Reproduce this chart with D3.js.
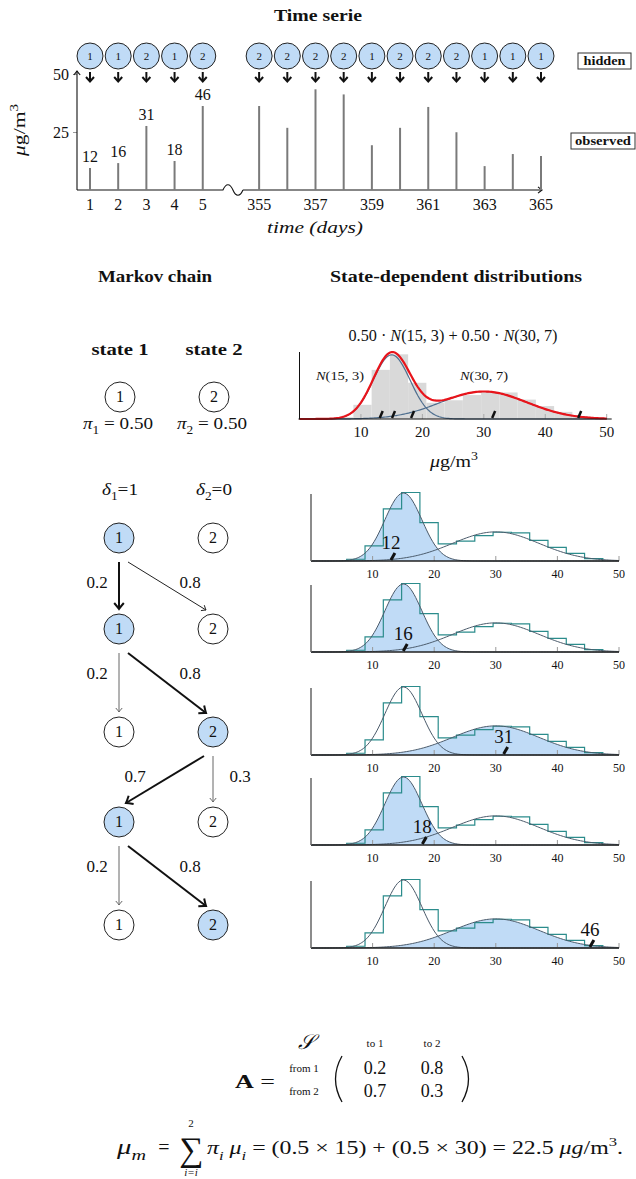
<!DOCTYPE html>
<html>
<head>
<meta charset="utf-8">
<script src="https://cdn.jsdelivr.net/npm/d3@7"></script>
<style>
body { margin: 0; background: #fff; }
svg { display: block; }
text { font-family: "Liberation Serif", "DejaVu Serif", serif; fill: #111; }
</style>
</head>
<body>
<svg id="chart"></svg>
<script>
const W = 636, H = 1179;

// ---- data ----
const days = [1, 2, 3, 4, 5, 355, 356, 357, 358, 359, 360, 361, 362, 363, 364, 365];
const hidden = [1, 1, 2, 1, 2, 2, 2, 2, 2, 1, 2, 2, 2, 1, 1, 1];
const observed = [9.5, 11.6, 27.6, 12.5, 36.2, 36.2, 26.8, 43.4, 41.2, 19.3, 26.8, 35.8, 24.9, 10.3, 15.5, 14.7];
const obsLabels = [12, 16, 31, 18, 46];
const dayTicks = [1, 2, 3, 4, 5, 355, 357, 359, 361, 363, 365];
const yTicks = [25, 50];

const piInit = [0.5, 0.5];
const delta = [1, 0];
const means = [15, 30];
const sds = [3, 7];
const transition = [[0.2, 0.8], [0.7, 0.3]];
const chainStates = [1, 1, 2, 1, 2];
const rugValues = [13.3, 15.3, 31.6, 18.4, 45.6];

const binEdges = [5.8, 8.77, 11.74, 14.71, 17.68, 20.65, 23.62, 26.59, 29.56, 32.53, 35.5, 38.47, 41.44, 44.41, 47.38];
const binDensity = [0.0017, 0.0147, 0.0509, 0.067, 0.0375, 0.0168, 0.0194, 0.0248, 0.0281, 0.0275, 0.0201, 0.0134, 0.0074, 0.0023];
const distTicks = [10, 20, 30, 40, 50];

// ---- setup ----
const blue = "#c0dbf6";
const curveCol = "#4a5a6a";
const teal = "#2b8c8c";

const svg = d3.select("#chart")
    .attr("width", W)
    .attr("height", H);

// text with sub/superscripts: parts = [{t, i, b, sub, sup}]
function rich(g, x, y, parts, size, anchor, len) {
  const t = g.append("text")
      .attr("x", x).attr("y", y)
      .attr("font-size", size)
      .attr("text-anchor", anchor || "middle");
  let shift = 0;
  parts.forEach(p => {
    const s = (p.sub || p.sup) ? size * 0.7 : size;
    const target = p.sub ? size * 0.3 : p.sup ? -size * 0.4 : 0;
    const ts = t.append("tspan").text(p.t)
        .attr("font-size", s)
        .attr("dy", target - shift);
    shift = target;
    if (p.i) ts.attr("font-style", "italic");
    if (p.b) ts.attr("font-weight", "bold");
  });
  if (len) t.attr("textLength", len).attr("lengthAdjust", "spacingAndGlyphs");
  return t;
}

function title(x, y, txt, len) {
  svg.append("text").attr("x", x).attr("y", y)
      .attr("text-anchor", "middle").attr("font-size", 16).attr("font-weight", "bold")
      .attr("textLength", len).attr("lengthAdjust", "spacingAndGlyphs")
      .text(txt);
}

function arrow(g, x1, y1, x2, y2, w, col, head) {
  g.append("line")
      .attr("x1", x1).attr("y1", y1).attr("x2", x2).attr("y2", y2)
      .attr("stroke", col).attr("stroke-width", w);
  const a = Math.atan2(y2 - y1, x2 - x1);
  const hx = (dx, dy) => x2 + dx * Math.cos(a) - dy * Math.sin(a);
  const hy = (dx, dy) => y2 + dx * Math.sin(a) + dy * Math.cos(a);
  g.append("path")
      .attr("d", `M${hx(-head, -head * 0.8)},${hy(-head, -head * 0.8)} Q${hx(-head * 0.3, -head * 0.2)},${hy(-head * 0.3, -head * 0.2)} ${x2},${y2} Q${hx(-head * 0.3, head * 0.2)},${hy(-head * 0.3, head * 0.2)} ${hx(-head, head * 0.8)},${hy(-head, head * 0.8)}`)
      .attr("fill", "none").attr("stroke", col).attr("stroke-width", w);
}

const dnorm = (v, m, s) => Math.exp(-0.5 * ((v - m) / s) ** 2) / (s * Math.sqrt(2 * Math.PI));
const grid = d3.range(0, 50.001, 0.25);

// ================= Time serie =================
title(318, 21, "Time serie", 88);

const ts = svg.append("g");
const xDomain = days.slice(0, 5).map(String).concat(["gap"], days.slice(5).map(String));
const x = d3.scalePoint().domain(xDomain).range([90, 541]);
const y = d3.scaleLinear().domain([0, 50]).range([190, 74]);
const x0 = 77;

// y axis ticks
const yAxis = ts.append("g")
    .attr("transform", `translate(${x0},0)`)
    .call(d3.axisLeft(y).tickValues(yTicks).tickSize(4).tickPadding(4));
yAxis.select(".domain").remove();
yAxis.selectAll("line").attr("stroke", "#999");
yAxis.selectAll("text").attr("font-size", 16).attr("font-family", "Liberation Serif, serif").attr("fill", "#111");

arrow(ts, x0, y(0), x0, 71, 1.1, "#111", 4);

// x axis with break
const gx = x("gap");
ts.append("path")
    .attr("d", `M${x0},${y(0)} H${gx - 8} C${gx - 5},${y(0) - 7} ${gx - 1},${y(0) - 7} ${gx + 2},${y(0)} C${gx + 5},${y(0) + 7} ${gx + 9},${y(0) + 7} ${gx + 12},${y(0)}`)
    .attr("fill", "none").attr("stroke", "#111").attr("stroke-width", 1.1);
arrow(ts, gx + 12, y(0), x("365") + 1, y(0), 1.1, "#111", 4);

// bars
ts.selectAll(".bar").data(days).enter().append("line")
    .attr("x1", d => x(String(d))).attr("x2", d => x(String(d)))
    .attr("y1", y(0)).attr("y2", (d, i) => y(observed[i]))
    .attr("stroke", "#7a7a7a").attr("stroke-width", 2);

ts.selectAll(".lab").data(obsLabels).enter().append("text")
    .attr("x", (d, i) => x(String(days[i])))
    .attr("y", (d, i) => y(observed[i]) - 6)
    .attr("text-anchor", "middle").attr("font-size", 16)
    .text(d => d);

ts.selectAll(".tick-lab").data(dayTicks).enter().append("text")
    .attr("x", d => x(String(d))).attr("y", 210)
    .attr("text-anchor", "middle").attr("font-size", 16)
    .text(d => d);

rich(ts, 315, 233, [{ t: "time", i: true }, { t: " (" , i: true}, { t: "days", i: true }, { t: ")" , i: true}], 16, "middle", 96);
rich(ts, 0, 0, [{ t: "μ", i: true }, { t: "g/m" }, { t: "3", sup: true }], 17, "middle", 52)
    .attr("transform", "translate(25,130) rotate(-90)");

// hidden states
const hy0 = 56;
const hg = ts.selectAll(".hid").data(days).enter().append("g")
    .attr("transform", d => `translate(${x(String(d))},${hy0})`);
hg.append("circle").attr("r", 13).attr("fill", blue).attr("stroke", "#222").attr("stroke-width", 1);
hg.append("text").attr("y", 4).attr("text-anchor", "middle").attr("font-size", 11)
    .text((d, i) => hidden[i]);
hg.each(function () {
  const g = d3.select(this);
  g.append("line").attr("x1", 0).attr("x2", 0).attr("y1", 16).attr("y2", 25)
      .attr("stroke", "#111").attr("stroke-width", 2);
  g.append("path").attr("d", "M-4,21 L0,25.5 L4,21")
      .attr("fill", "none").attr("stroke", "#111").attr("stroke-width", 2);
});

// legend boxes
[["hidden", 578, 53, 53, 42], ["observed", 571, 133, 64, 56]].forEach(([t, bx, by, bw, tl]) => {
  ts.append("rect").attr("x", bx).attr("y", by).attr("width", bw).attr("height", 16)
      .attr("fill", "#fff").attr("stroke", "#333").attr("stroke-width", 1);
  ts.append("text").attr("x", bx + bw / 2).attr("y", by + 12)
      .attr("text-anchor", "middle").attr("font-size", 12).attr("font-weight", "bold")
      .attr("textLength", tl).attr("lengthAdjust", "spacingAndGlyphs").text(t);
});

// ================= section titles =================
title(155, 282, "Markov chain", 114);
title(456, 282, "State-dependent distributions", 252);

// ================= Markov chain =================
const colX = [119, 213];
const panelBase = [561, 652, 755, 845, 948];
const rowY = panelBase.map(b => b - 23);
const mc = svg.append("g");

colX.forEach((cx, k) => {
  mc.append("text").attr("x", cx + 1).attr("y", 355).attr("text-anchor", "middle")
      .attr("font-size", 16).attr("font-weight", "bold")
      .attr("textLength", 57).attr("lengthAdjust", "spacingAndGlyphs")
      .text("state " + (k + 1));
  mc.append("circle").attr("cx", cx + 1).attr("cy", 397).attr("r", 15)
      .attr("fill", "#fff").attr("stroke", "#222");
  mc.append("text").attr("x", cx + 1).attr("y", 402).attr("text-anchor", "middle")
      .attr("font-size", 16).text(k + 1);
  rich(mc, cx - 1, 429, [{ t: "π", i: true }, { t: String(k + 1), sub: true }, { t: " = " + piInit[k].toFixed(2) }], 17, "middle", 70);
  rich(mc, cx + 1, 495, [{ t: "δ", i: true }, { t: String(k + 1), sub: true }, { t: "=" + delta[k] }], 17, "middle", 36);
});

chainStates.forEach((s, i) => {
  colX.forEach((cx, k) => {
    mc.append("circle").attr("cx", cx).attr("cy", rowY[i]).attr("r", 15)
        .attr("fill", s === k + 1 ? blue : "#fff").attr("stroke", "#222");
    mc.append("text").attr("x", cx).attr("y", rowY[i] + 5).attr("text-anchor", "middle")
        .attr("font-size", 16).text(k + 1);
  });
});

for (let i = 0; i < chainStates.length - 1; i++) {
  const from = chainStates[i], to = chainStates[i + 1];
  const sx = colX[from - 1], sy = rowY[i];
  [1, 2].forEach(j => {
    const tx = colX[j - 1], ty = rowY[i + 1];
    const thick = j === to;
    const vertical = j === from;
    const col = thick ? "#111" : vertical ? "#666" : "#222";
    const w = thick ? 2 : 1;
    const hd = thick ? 6 : 4;
    if (vertical) {
      arrow(mc, sx, sy + 24, tx, ty - 20, w, col, hd);
    } else {
      const dir = Math.sign(tx - sx);
      arrow(mc, sx + dir * 9, sy + 24, tx - dir * 7, ty - 19, w, col, hd);
    }
    const lx = vertical ? sx + (from === 1 ? -22 : 27) : (from === 1 ? colX[1] - 23 : colX[0] + 16);
    mc.append("text").attr("x", lx).attr("y", sy + 50).attr("text-anchor", "middle")
        .attr("font-size", 17).text(transition[from - 1][j - 1].toFixed(1));
  });
}

// ================= mixture panel =================
const mp = svg.append("g");
const xm = d3.scaleLinear().domain([0, 50]).range([299.5, 606.7]);
const ym = d3.scaleLinear().domain([0, 0.0694]).range([419, 352]);

rich(mp, 453, 341, [{ t: "0.50 · " }, { t: "N", i: true }, { t: "(15, 3) + 0.50 · " }, { t: "N", i: true }, { t: "(30, 7)" }], 16, "middle", 209);

mp.selectAll(".hb").data(binDensity).enter().append("rect")
    .attr("x", (d, i) => xm(binEdges[i]))
    .attr("width", (d, i) => xm(binEdges[i + 1]) - xm(binEdges[i]))
    .attr("y", d => ym(d)).attr("height", d => ym(0) - ym(d))
    .attr("fill", "#d9d9d9");

mp.selectAll(".tk").data(distTicks).enter().append("line")
    .attr("x1", d => xm(d)).attr("x2", d => xm(d)).attr("y1", ym(0)).attr("y2", ym(0) - 5)
    .attr("stroke", "#aaa");

means.forEach((m, k) => {
  mp.append("path").datum(grid)
      .attr("d", d3.line().x(v => xm(v)).y(v => ym(piInit[k] * dnorm(v, m, sds[k]))))
      .attr("fill", "none").attr("stroke", "#4f6f8f").attr("stroke-width", 1.2);
});
mp.append("path").datum(grid)
    .attr("d", d3.line().x(v => xm(v)).y(v => ym(d3.sum(means, (m, k) => piInit[k] * dnorm(v, m, sds[k])))))
    .attr("fill", "none").attr("stroke", "#e8141b").attr("stroke-width", 2.2);

mp.append("line").attr("x1", xm(0) - 1).attr("x2", xm(50) + 5).attr("y1", ym(0)).attr("y2", ym(0))
    .attr("stroke", "#111").attr("stroke-width", 1);
mp.append("line").attr("x1", xm(0)).attr("x2", xm(0)).attr("y1", ym(0)).attr("y2", 352)
    .attr("stroke", "#111").attr("stroke-width", 1);

rugValues.forEach(v => {
  mp.append("line").attr("x1", xm(v) - 1.5).attr("x2", xm(v) + 1.5)
      .attr("y1", ym(0) - 1).attr("y2", ym(0) - 8)
      .attr("stroke", "#111").attr("stroke-width", 2.5);
});

mp.selectAll(".tl").data(distTicks).enter().append("text")
    .attr("x", d => xm(d)).attr("y", 437).attr("text-anchor", "middle")
    .attr("font-size", 15).text(d => d);

rich(mp, 340, 380, [{ t: "N", i: true }, { t: "(15, 3)" }], 13, "middle", 48);
rich(mp, 484, 380, [{ t: "N", i: true }, { t: "(30, 7)" }], 13, "middle", 48);
rich(mp, 454, 467, [{ t: "μ", i: true }, { t: "g/m" }, { t: "3", sup: true }], 17, "middle", 48);

// ================= state panels =================
const xl = d3.scaleLinear().domain([0, 50]).range([311, 619]);

chainStates.forEach((s, i) => {
  const base = panelBase[i];
  const yl = d3.scaleLinear().domain([0, 0.0665]).range([base, base - 68]);
  const g = svg.append("g");
  const k = s - 1;

  g.append("path").datum(grid)
      .attr("d", d3.area().x(v => xl(v)).y0(base).y1(v => yl(piInit[k] * dnorm(v, means[k], sds[k]))))
      .attr("fill", blue);

  const pts = [[binEdges[0], 0]];
  binDensity.forEach((d, b) => { pts.push([binEdges[b], d]); pts.push([binEdges[b + 1], d]); });
  pts.push([binEdges[binEdges.length - 1], 0]);
  g.append("path").datum(pts)
      .attr("d", d3.line().x(p => xl(p[0])).y(p => yl(p[1])))
      .attr("fill", "none").attr("stroke", teal).attr("stroke-width", 1.2);

  means.forEach((m, c) => {
    g.append("path").datum(grid)
        .attr("d", d3.line().x(v => xl(v)).y(v => yl(piInit[c] * dnorm(v, m, sds[c]))))
        .attr("fill", "none").attr("stroke", curveCol).attr("stroke-width", 1);
  });

  g.selectAll(".tk").data(distTicks).enter().append("line")
      .attr("x1", d => xl(d)).attr("x2", d => xl(d)).attr("y1", base).attr("y2", base - 5)
      .attr("stroke", "#999");
  g.append("line").attr("x1", xl(0)).attr("x2", xl(50)).attr("y1", base).attr("y2", base)
      .attr("stroke", "#222").attr("stroke-width", 1.6);
  g.append("line").attr("x1", xl(0)).attr("x2", xl(0)).attr("y1", base).attr("y2", base - 67)
      .attr("stroke", "#666").attr("stroke-width", 1.5);

  g.selectAll(".tl").data(distTicks).enter().append("text")
      .attr("x", d => xl(d)).attr("y", base + 17).attr("text-anchor", "middle")
      .attr("font-size", 12).text(d => d);

  const rx = xl(rugValues[i]);
  g.append("line").attr("x1", rx - 2).attr("x2", rx + 2).attr("y1", base - 1).attr("y2", base - 8)
      .attr("stroke", "#111").attr("stroke-width", 3);
  g.append("text").attr("x", rx - 2).attr("y", base - 12).attr("text-anchor", "middle")
      .attr("font-size", 19).text(obsLabels[i]);
});

// ================= matrix and mean =================
const fm = svg.append("g");
fm.append("text").attr("x", 306).attr("y", 1049).attr("text-anchor", "middle")
    .attr("font-size", 21).attr("font-style", "italic")
    .attr("font-family", "DejaVu Serif, serif").text("𝒮");
["to 1", "to 2"].forEach((t, j) => {
  fm.append("text").attr("x", 375 + j * 57).attr("y", 1047).attr("text-anchor", "middle")
      .attr("font-size", 11).text(t);
});
rich(fm, 255, 1088, [{ t: "A", b: true }, { t: " =" }], 19, "middle", 40);
transition.forEach((row, r) => {
  fm.append("text").attr("x", 304).attr("y", 1072 + r * 23).attr("text-anchor", "middle")
      .attr("font-size", 11).text("from " + (r + 1));
  row.forEach((v, j) => {
    fm.append("text").attr("x", 375 + j * 57).attr("y", 1074 + r * 23).attr("text-anchor", "middle")
        .attr("font-size", 18).text(v.toFixed(1));
  });
});
fm.append("path").attr("d", "M342,1056 Q329,1079 342,1102")
    .attr("fill", "none").attr("stroke", "#111").attr("stroke-width", 1.3);
fm.append("path").attr("d", "M462,1056 Q475,1079 462,1102")
    .attr("fill", "none").attr("stroke", "#111").attr("stroke-width", 1.3);

rich(fm, 117, 1154, [{ t: "μ", i: true }, { t: "m", i: true, sub: true }], 21, "start", 29);
fm.append("text").attr("x", 164).attr("y", 1154).attr("text-anchor", "middle")
    .attr("font-size", 20).text("=");
fm.append("text").attr("x", 191).attr("y", 1161).attr("text-anchor", "middle")
    .attr("font-size", 34).text("∑");
fm.append("text").attr("x", 191).attr("y", 1127).attr("text-anchor", "middle")
    .attr("font-size", 11).text(means.length);
fm.append("text").attr("x", 191).attr("y", 1176).attr("text-anchor", "middle")
    .attr("font-size", 11).attr("font-style", "italic").text("i=i");
const meanVal = d3.sum(means, (m, k) => piInit[k] * m);
rich(fm, 207, 1154, [
  { t: "π", i: true }, { t: "i", i: true, sub: true }, { t: " " },
  { t: "μ", i: true }, { t: "i", i: true, sub: true },
  { t: ` = (${piInit[0]} × ${means[0]}) + (${piInit[1]} × ${means[1]}) = ${meanVal} ` },
  { t: "μg", i: true }, { t: "/m" }, { t: "3", sup: true }, { t: "." }
], 19, "start", 416);
</script>
</body>
</html>
